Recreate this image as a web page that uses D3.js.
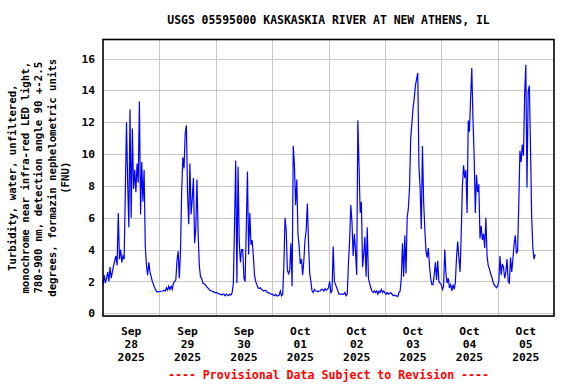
<!DOCTYPE html>
<html>
<head>
<meta charset="utf-8">
<script src="https://cdn.jsdelivr.net/npm/d3@7"></script>
<style>
  body { margin: 0; background: #fff; }
  text { font-family: "DejaVu Sans Mono", monospace; font-weight: bold; }
</style>
</head>
<body>
<div id="chart"></div>
<script>
// turbidity, FNU, one value per 30 minutes starting at midnight of each day
var sep28 = [1.8, 2.4, 1.9, 2.2, 2.6, 2.0, 2.9, 2.2, 2.6, 3.0, 3.3, 3.6, 3.0, 6.3, 3.4, 4.0, 3.2, 3.6, 3.4, 7.6,
  12.0, 8.2, 5.4, 12.8, 6.0, 11.6, 7.8, 9.0, 7.6, 9.4, 8.2, 13.3, 6.2, 9.5, 7.0, 9.0, 4.2, 3.0, 2.4, 3.2,
  2.6, 2.3, 2.0, 1.8, 1.6, 1.45, 1.35, 1.35];
var sep29 = [1.37, 1.37, 1.4, 1.4, 1.45, 1.4, 1.6, 1.45, 1.7, 1.5, 1.7, 1.5, 1.9, 2.0, 2.1, 3.3, 3.9, 2.2, 3.9, 7.7,
  9.8, 9.1, 11.3, 11.8, 7.5, 5.6, 9.4, 6.2, 7.2, 8.5, 4.4, 5.3, 8.4, 5.0, 3.0, 2.3, 2.2, 1.9, 1.85, 1.8,
  1.7, 1.6, 1.55, 1.45, 1.4, 1.4, 1.35, 1.3];
var sep30 = [1.3, 1.3, 1.25, 1.2, 1.2, 1.15, 1.2, 1.2, 1.1, 1.2, 1.15, 1.1, 1.2, 1.15, 1.3, 1.9, 5.6, 9.6, 1.9, 9.2,
  4.5, 3.2, 4.0, 4.0, 2.2, 2.0, 5.4, 8.9, 3.7, 6.3, 4.3, 4.6, 3.6, 2.4, 2.0, 1.8, 1.6, 1.55, 1.6, 1.5,
  1.45, 1.4, 1.45, 1.4, 1.3, 1.3, 1.25, 1.2];
var oct01 = [1.2, 1.15, 1.1, 1.2, 1.1, 1.1, 1.15, 1.4, 1.1, 1.2, 3.0, 6.0, 5.2, 2.7, 2.5, 2.7, 4.4, 1.7, 10.5, 9.3,
  6.8, 8.4, 5.0, 4.2, 3.1, 3.4, 2.4, 3.3, 4.6, 5.2, 6.9, 4.4, 2.5, 2.0, 1.4, 1.3, 1.5, 1.4, 1.4, 1.35,
  1.4, 1.4, 1.5, 1.5, 1.4, 1.55, 1.45, 1.5];
var oct02 = [1.6, 2.0, 1.3, 1.4, 4.2, 2.0, 1.8, 1.6, 1.4, 1.2, 1.2, 1.2, 1.2, 1.2, 1.3, 1.1, 1.2, 3.2, 4.6, 6.8,
  5.7, 3.6, 5.0, 3.9, 2.4, 12.1, 9.2, 6.3, 7.0, 2.9, 3.7, 4.8, 2.3, 5.4, 2.2, 1.9, 1.6, 1.4, 1.3, 1.4,
  1.3, 1.4, 1.2, 1.4, 1.3, 1.5, 1.3, 1.4];
var oct03 = [1.3, 1.2, 1.3, 1.2, 1.25, 1.3, 1.2, 1.1, 1.15, 1.1, 1.1, 1.05, 1.3, 1.4, 2.2, 4.4, 2.3, 4.9, 2.5, 6.0,
  6.6, 7.9, 11.0, 11.9, 12.9, 13.5, 14.3, 14.7, 15.1, 9.2, 7.9, 5.3, 10.5, 7.0, 5.3, 3.9, 3.5, 4.1, 3.0, 2.2,
  1.8, 1.8, 2.4, 3.2, 2.1, 3.3, 2.0, 1.9];
var oct04 = [1.8, 1.5, 1.7, 4.0, 2.5, 1.9, 2.2, 1.6, 1.8, 1.4, 1.8, 1.5, 1.9, 3.5, 4.5, 3.5, 2.6, 4.9, 8.0, 9.3,
  8.5, 9.0, 6.3, 12.1, 11.4, 13.5, 15.4, 12.2, 9.9, 6.3, 8.7, 7.6, 8.1, 4.7, 5.5, 4.6, 5.0, 4.1, 6.0, 3.6,
  3.0, 2.8, 2.5, 2.3, 2.0, 1.8, 1.7, 1.6];
var oct05 = [1.7, 2.0, 3.6, 2.4, 3.1, 2.9, 2.2, 2.6, 3.4, 2.0, 1.9, 3.5, 2.6, 3.4, 4.3, 4.9, 3.8, 3.9, 6.8, 10.2,
  9.5, 10.6, 9.9, 13.7, 15.6, 7.9, 13.9, 14.3, 10.4, 6.0, 4.1, 3.4, 3.7];

var days = [sep28, sep29, sep30, oct01, oct02, oct03, oct04, oct05];
var yTicks = [0, 2, 4, 6, 8, 10, 12, 14, 16];
var title = "USGS 05595000 KASKASKIA RIVER AT NEW ATHENS, IL";
var yLabel = ["Turbidity, water, unfiltered,",
  "monochrome near infra-red LED light,",
  "780-900 nm, detection angle 90 +-2.5",
  "degrees, formazin nephelometric units",
  "(FNU)"];
var footer = "---- Provisional Data Subject to Revision ----";

// flatten into time/value points
var data = [];
days.forEach(function (vals, d) {
  vals.forEach(function (v, i) {
    data.push({ t: new Date(2025, 8, 28 + d, Math.floor(i / 2), (i % 2) * 30), v: v });
  });
});

var width = 576, height = 384;
var plotLeft = 103, plotRight = 554, plotTop = 39.5, plotBottom = 316;

var svg = d3.select("#chart")
  .append("svg")
  .attr("width", width)
  .attr("height", height);

var x = d3.scaleTime()
  .domain([new Date(2025, 8, 28), new Date(2025, 9, 6)])
  .range([plotLeft, plotRight]);
var y = d3.scaleLinear()
  .domain([0, 16])
  .range([313.3, 58.5]);

// grid
svg.append("g")
  .selectAll("line")
  .data(yTicks)
  .enter()
  .append("line")
  .attr("x1", plotLeft).attr("x2", plotRight)
  .attr("y1", function (d) { return Math.round(y(d)) + 0.5; })
  .attr("y2", function (d) { return Math.round(y(d)) + 0.5; })
  .style("stroke", "#c8c8c8");

var midnights = d3.timeDay.range(new Date(2025, 8, 29), new Date(2025, 9, 6));
svg.append("g")
  .selectAll("line")
  .data(midnights)
  .enter()
  .append("line")
  .attr("x1", function (d) { return Math.round(x(d)) + 0.5; })
  .attr("x2", function (d) { return Math.round(x(d)) + 0.5; })
  .attr("y1", plotTop).attr("y2", plotBottom)
  .style("stroke", "#c8c8c8");

// the series
var line = d3.line()
  .x(function (d) { return x(d.t); })
  .y(function (d) { return y(d.v); });

svg.append("path")
  .datum(data)
  .attr("d", line)
  .style("fill", "none")
  .style("stroke", "#0000ff")
  .style("stroke-width", 1.2);

// frame
svg.append("rect")
  .attr("x", plotLeft).attr("y", plotTop)
  .attr("width", plotRight - plotLeft).attr("height", plotBottom - plotTop)
  .style("fill", "none")
  .style("stroke", "#000")
  .style("stroke-width", 1.6);

// y axis labels
var yAxis = svg.append("g")
  .attr("transform", "translate(" + plotLeft + ",0)")
  .call(d3.axisLeft(y).tickValues(yTicks).tickSize(0).tickPadding(8));
yAxis.select(".domain").remove();
yAxis.selectAll("text")
  .style("font-family", "DejaVu Sans Mono")
  .style("font-weight", "bold")
  .style("font-size", "11.3px")
  .attr("fill", "#000");

// x axis labels, centred on noon of each day
var noons = d3.timeDay.range(new Date(2025, 8, 28), new Date(2025, 9, 6)).map(function (d) {
  return d3.timeHour.offset(d, 12);
});
var fmt = [d3.timeFormat("%b"), d3.timeFormat("%d"), d3.timeFormat("%Y")];
var xl = svg.append("g")
  .selectAll("text")
  .data(noons)
  .enter()
  .append("text")
  .attr("text-anchor", "middle")
  .style("font-size", "11.3px");
fmt.forEach(function (f, k) {
  xl.append("tspan")
    .attr("x", function (d) { return x(d); })
    .attr("y", 335 + k * 12.8)
    .text(function (d) { return f(d); });
});

// title
svg.append("text")
  .attr("x", (plotLeft + plotRight) / 2)
  .attr("y", 24)
  .attr("text-anchor", "middle")
  .style("font-size", "11.4px")
  .text(title);

// y title
var yt = svg.append("text")
  .attr("transform", "translate(0," + (plotTop + plotBottom) / 2 + ") rotate(-90)")
  .attr("text-anchor", "middle")
  .style("font-size", "10.7px");
yLabel.forEach(function (s, k) {
  yt.append("tspan")
    .attr("x", 0)
    .attr("y", 16 + k * 13.2)
    .text(s);
});

// footer
svg.append("text")
  .attr("x", (plotLeft + plotRight) / 2)
  .attr("y", 379)
  .attr("text-anchor", "middle")
  .style("font-size", "11.6px")
  .attr("fill", "#ff0000")
  .text(footer);
</script>
</body>
</html>
